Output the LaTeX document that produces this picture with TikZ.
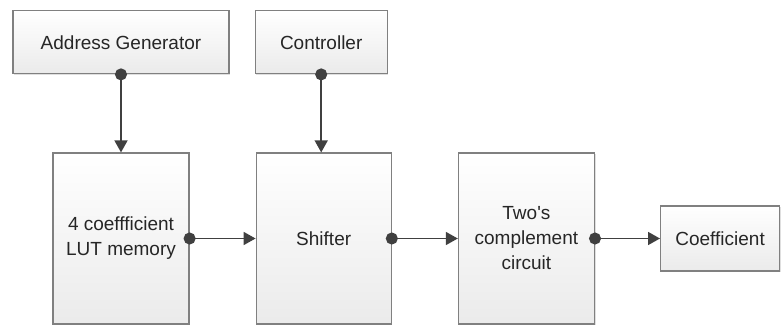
\documentclass[tikz,border=0pt]{standalone}
\usepackage{fontspec}
\setmainfont{Liberation Sans}
\usetikzlibrary{arrows.meta, positioning, shadows}

\tikzset{
	block/.style={draw=black!50, line width=1.2pt, top color=white, bottom color=black!8,
		drop shadow={shadow xshift=1.2pt, shadow yshift=-1.2pt, opacity=0.25},
		align=center, text=black!85, inner sep=2pt, font=\fontsize{19}{25}\selectfont},
	link/.style={draw=black!75, line width=1.6pt,
		{Circle[length=12pt]}-{Triangle[length=12pt, width=13pt]}, shorten <=-6pt}
}

\begin{document}
\begin{tikzpicture}
		
		\useasboundingbox (0pt,0pt) rectangle (781pt,-326pt);
		
		%lut
		\node[block, minimum width=136pt, minimum height=171pt] (lut) at (121pt,-238.5pt) {4 coeffficient\\LUT memory};
		%shifter
		\node[block, minimum width=135pt, minimum height=171pt, right=66pt of lut] (shift) {Shifter};
		%two's complement
		\node[block, minimum width=136pt, minimum height=171pt, right=66pt of shift] (twos) {Two\textquotesingle s\\complement\\circuit};
		%coefficient
		\node[block, minimum width=119pt, minimum height=65pt, right=65pt of twos] (coef) {Coefficient};
		%address generator
		\node[block, minimum width=216pt, minimum height=63pt, above=78pt of lut] (addr) {Address Generator};
		%controller
		\node[block, minimum width=132pt, minimum height=63pt, above=78pt of shift, xshift=-2.5pt] (ctrl) {Controller};
		
		
		\draw[link] (addr.south) -- (lut.north);
		\draw[link] (ctrl.south) -- (ctrl.south |- shift.north);
		\draw[link] (lut.east) -- (shift.west);
		\draw[link] (shift.east) -- (twos.west);
		\draw[link] (twos.east) -- (coef.west);
		
		
\end{tikzpicture}
\end{document}
